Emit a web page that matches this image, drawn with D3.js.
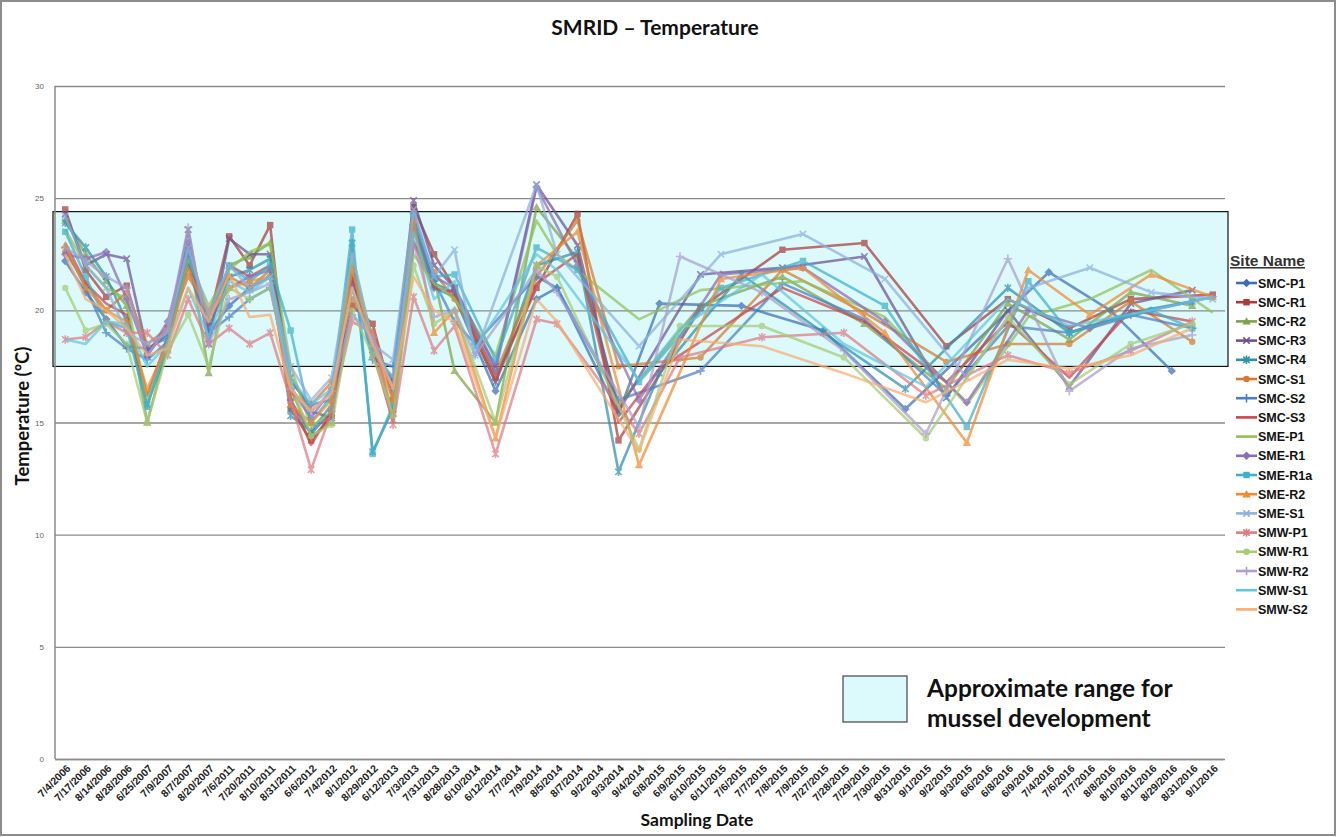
<!DOCTYPE html>
<html>
<head>
<meta charset="utf-8">
<script src="https://cdn.jsdelivr.net/npm/d3@7"></script>
<style>
  body { margin: 0; background: #fff; }
  svg { display: block; font-family: Arial, "Liberation Sans", sans-serif; }
</style>
</head>
<body>
<svg id="chart" width="1337" height="837"></svg>
<script>
// Sampling dates (category axis)
const dates = [
  "7/4/2006","7/17/2006","8/14/2006","8/28/2006",
  "6/25/2007","7/9/2007","8/7/2007","8/20/2007",
  "7/6/2011","7/20/2011","8/10/2011","8/31/2011",
  "6/6/2012","7/4/2012","8/1/2012","8/29/2012",
  "6/12/2013","7/3/2013","7/31/2013","8/28/2013",
  "6/10/2014","6/12/2014","7/7/2014","7/9/2014","8/5/2014","8/7/2014","9/2/2014","9/3/2014","9/4/2014",
  "6/8/2015","6/9/2015","6/10/2015","6/11/2015","7/6/2015","7/7/2015","7/8/2015","7/9/2015",
  "7/27/2015","7/28/2015","7/29/2015","7/30/2015","8/31/2015","9/1/2015","9/2/2015","9/3/2015",
  "6/6/2016","6/8/2016","6/9/2016","7/4/2016","7/6/2016","7/7/2016",
  "8/8/2016","8/10/2016","8/11/2016","8/29/2016","8/31/2016","9/1/2016"
];

const sites = ["SMC-P1","SMC-R1","SMC-R2","SMC-R3","SMC-R4","SMC-S1","SMC-S2","SMC-S3",
               "SME-P1","SME-R1","SME-R1a","SME-R2","SME-S1",
               "SMW-P1","SMW-R1","SMW-R2","SMW-S1","SMW-S2"];

const yTicks = [0, 5, 10, 15, 20, 25, 30];
const musselRange = [17.5, 24.4];

const _ = null; // site not sampled on that date

// Temperature (°C) per site, one value per sampling date
const smcP1 = [22.2,20.8,19.6,18.4, 18.3,18.8,22.4,19.0, 20.2,21.0,21.5,16.0, 14.5,15.5,21.0,18.3, 16.8,23.6,21.0,20.6,
  _,16.4,_,20.5,21.0,_,_,15.4,_, 20.3,_,_,_,20.2,_,_,_, 19.1,_,_,_,15.6,_,_,_, _,_,_,21.7,_,_, 20.0,_,_,17.3,_,_];
const smcR1 = [24.5,21.8,20.6,21.1, 18.0,19.2,22.0,19.5, 23.3,22.0,23.8,15.6, 14.2,15.3,20.2,19.4, 16.0,24.6,22.5,21.0,
  _,17.0,_,21.0,_,24.3,_,14.2,_, _,_,20.1,_,_,_,22.7,_, _,_,23.0,_,_,_,18.4,_, _,20.5,_,_,19.2,_, _,20.5,_,_,_,20.7];
const smcR2 = [24.0,22.5,21.3,20.2, 15.0,18.5,22.8,17.2, 22.0,22.4,23.0,16.5, 14.4,15.0,22.0,18.7, 15.4,23.0,21.5,17.3,
  _,15.0,_,24.6,_,22.3,_,15.8,_, _,_,20.2,_,_,_,21.5,_, _,_,19.4,_,_,_,16.5,_, _,20.3,_,_,18.7,_, _,20.8,_,_,20.2,_];
const smcR3 = [24.3,22.0,22.5,22.3, 18.2,19.0,23.6,18.5, 23.2,22.5,22.5,17.0, 15.5,15.2,21.5,18.0, 17.0,24.9,22.0,21.0,
  _,17.5,_,25.6,_,22.9,_,15.5,_, _,_,21.6,_,_,_,21.9,_, _,_,22.4,_,_,_,16.1,_, _,20.0,_,_,16.6,_, _,20.3,_,_,20.9,_];
const smcR4 = [23.9,22.8,21.5,19.5, 15.8,18.3,22.6,19.2, 21.5,21.8,22.3,15.3, 14.6,15.8,23.0,13.7, 15.6,24.0,21.2,20.8,
  _,16.8,_,22.0,_,22.6,_,12.8,_, 17.2,_,_,_,21.6,_,_,_, 19.0,_,_,_,16.5,_,_,_, _,21.0,_,_,19.0,_, _,19.9,_,_,20.4,_];
const smcS1 = [22.6,21.2,20.0,20.8, 18.5,19.2,21.5,20.0, 21.5,21.0,21.8,16.3, 15.8,16.8,20.5,19.0, 16.3,23.5,21.7,20.5,
  _,17.2,_,21.5,_,24.0,_,17.5,_, _,_,17.9,_,_,_,21.8,_, _,_,19.9,_,_,_,17.7,_, _,18.5,_,_,18.5,_, _,20.4,_,_,18.6,_];
const smcS2 = [22.8,21.0,19.0,18.3, 17.8,18.6,22.0,19.0, 19.7,20.5,21.0,16.8, 15.8,16.0,21.5,17.8, 17.5,23.8,21.3,19.5,
  18.5,_,_,21.5,21.0,_,_,16.0,_, _,_,17.3,_,_,_,21.2,_, _,_,19.6,_,_,_,16.2,_, _,19.3,_,_,19.0,_, _,19.8,_,_,19.2,_];
const smcS3 = [23.0,21.2,20.3,19.8, 16.2,18.8,22.5,19.3, 22.0,21.5,22.0,16.0, 14.0,15.5,21.5,18.2, 15.0,23.0,21.0,20.8,
  _,16.8,_,21.2,_,22.5,_,15.0,_, 17.4,_,_,_,_,_,21.0,_, _,_,19.5,_,_,_,16.8,_, _,19.5,_,_,17.0,_, _,20.0,_,_,19.5,_];
const smeP1 = [23.6,22.0,21.0,20.5, 16.0,18.5,22.3,20.2, 21.8,22.6,23.0,17.5, 14.8,15.5,22.5,18.6, 16.5,22.5,21.2,20.5,
  _,18.0,_,24.0,22.5,_,_,_,19.6, _,_,20.9,_,_,_,_,21.3, _,_,_,19.7,_,_,_,15.8, _,_,19.7,_,_,20.5, _,_,21.8,_,_,19.9];
const smeR1 = [22.5,22.3,22.6,20.5, 18.0,19.5,23.0,19.5, 21.0,21.5,21.8,16.5, 15.2,16.5,21.0,18.5, 16.5,24.3,21.5,21.0,
  _,17.3,_,25.5,_,22.0,_,_,16.0, _,_,_,21.6,_,_,_,21.9, _,_,_,19.5,_,_,_,15.9, _,_,20.0,_,_,19.2, _,_,20.0,_,_,20.6];
const smeR1a = [23.5,21.5,19.5,19.2, 15.7,18.7,22.5,19.6, 22.0,21.3,22.0,19.1, 15.0,16.2,23.6,13.6, 15.8,24.2,21.5,21.6,
  _,17.8,_,22.8,_,21.8,_,_,16.8, _,_,_,21.0,_,_,_,22.2, _,_,_,20.2,_,_,_,14.8, _,_,21.3,_,19.0,_, _,_,20.0,_,19.2,_];
const smeR2 = [22.9,21.0,20.0,19.5, 16.5,18.5,21.8,19.8, 21.0,21.3,21.5,15.8, 15.0,16.0,21.8,18.5, 16.0,24.0,19.0,20.0,
  _,14.3,_,22.0,_,23.5,_,_,13.1, _,_,_,21.4,_,_,_,21.9, _,_,_,19.0,_,_,_,14.1, _,_,21.8,_,_,19.8, _,_,21.6,_,_,20.6];
const smeS1 = [24.2,22.0,21.0,19.0, 18.5,19.0,22.8,19.8, 22.0,21.0,21.5,17.5, 16.0,17.0,22.5,18.5, 17.8,24.5,21.5,22.7,
  18.0,_,_,25.6,22.5,_,_,_,18.4, _,_,_,22.5,_,_,_,23.4, _,_,_,21.4,_,_,_,17.0, _,_,21.0,_,_,21.9, _,_,20.8,_,_,20.5];
const smwP1 = [18.7,18.8,19.5,19.0, 19.0,18.0,20.5,18.5, 19.2,18.5,19.0,16.0, 12.9,15.5,19.5,19.0, 14.9,20.6,18.2,19.3,
  _,13.6,_,19.6,19.4,_,_,_,14.5, _,17.9,_,_,_,18.8,_,_, _,19.0,_,_,_,16.2,_,_, _,18.0,_,_,17.2,_, _,18.2,_,_,19.5,_];
const smwR1 = [21.0,19.1,19.4,18.5, 15.0,18.2,19.8,17.5, 21.0,20.5,21.0,16.8, 14.4,14.9,20.0,18.0, 15.3,22.0,19.4,20.0,
  _,15.0,_,22.0,21.5,_,_,_,13.8, _,19.3,_,_,_,19.3,_,_, _,17.9,_,_,_,14.3,_,_, _,19.7,_,_,16.7,_, _,18.5,_,_,19.4,_];
const smwR2 = [22.8,22.2,21.5,21.0, 18.0,19.2,23.7,18.5, 20.5,20.8,21.2,16.5, 15.5,16.4,19.8,18.8, 16.5,23.0,19.7,20.0,
  18.0,_,_,21.8,20.8,_,_,_,14.8, _,22.4,_,_,_,20.8,_,_, _,18.2,_,_,_,14.5,_,_, _,22.3,_,_,16.4,_, _,18.3,_,_,18.9,_];
const smwS1 = [18.7,18.5,19.5,19.4, 17.5,18.5,21.0,18.8, 21.3,20.8,21.5,17.0, 15.8,16.5,21.0,18.2, 17.0,23.5,20.5,21.3,
  18.3,_,_,22.5,21.8,_,_,_,16.9, _,19.2,_,_,_,21.6,_,_, _,18.5,_,_,_,16.6,_,_, _,20.5,_,_,19.3,_, _,_,20.0,_,_,20.6];
const smwS2 = [22.5,20.5,20.0,19.2, 18.0,18.3,21.0,19.5, 21.6,19.7,19.8,16.5, 15.5,16.3,21.0,18.5, 16.5,21.5,20.0,19.5,
  _,14.3,_,20.5,19.5,_,_,_,13.7, _,18.7,_,_,_,18.4,_,_, _,17.2,_,_,_,15.9,_,_, _,17.8,_,_,17.4,_, _,18.0,_,_,19.2,_];

const seriesValues = [smcP1, smcR1, smcR2, smcR3, smcR4, smcS1, smcS2, smcS3,
                      smeP1, smeR1, smeR1a, smeR2, smeS1,
                      smwP1, smwR1, smwR2, smwS1, smwS2];

const colors = ["#3c6fb3","#a83c3a","#7fa348","#6c5293","#2f8fa8","#d57a2e","#4a7fc6","#c9434a",
                "#92bf55","#8a6cb5","#3fb0ca","#f28a30","#8fb0dd",
                "#de7a82","#a5cb75","#ab9fcc","#62c5dc","#f7ad72"];
const markers = ["diamond","square","triangle","x","star","circle","plus","none",
                 "none","diamond","square","triangle","x",
                 "star","circle","plus","none","none"];

// ---- layout ----
const svg = d3.select("#chart");
const W = 1337, H = 837;
const plot = { left: 55, right: 1223, top: 86, bottom: 759 };
const calibriLike = "Lato, 'Open Sans', sans-serif";

const x = d3.scaleBand().domain(dates).range([plot.left, plot.right]);
const xc = d => x(d) + x.bandwidth() / 2;
const y = d3.scaleLinear().domain([0, 30]).range([plot.bottom, plot.top]);

// outer frame
svg.append("rect").attr("x", 1).attr("y", 1).attr("width", W - 3).attr("height", H - 3)
  .attr("fill", "#fff").attr("stroke", "#8c8c8c").attr("stroke-width", 2);

// title
svg.append("text").attr("x", 655).attr("y", 35).attr("text-anchor", "middle")
  .style("font-family", calibriLike).style("font-weight", "700").style("font-size", "21px")
  .attr("fill", "#111").text("SMRID \u2013 Temperature");

// mussel development band
svg.append("rect")
  .attr("x", plot.left - 2).attr("y", y(musselRange[1]))
  .attr("width", plot.right + 5 - (plot.left - 2)).attr("height", y(musselRange[0]) - y(musselRange[1]))
  .attr("fill", "#dcfafc").attr("stroke", "#111").attr("stroke-width", 1.2);

// gridlines
svg.append("g").attr("transform", `translate(${plot.left},0)`)
  .call(d3.axisLeft(y).tickValues(yTicks).tickSize(-(plot.right + 2 - plot.left)).tickFormat(""))
  .call(g => g.select(".domain").remove())
  .call(g => g.selectAll("line").attr("stroke", "#8a8a8a").attr("stroke-width", 1.3));

// y axis line and labels
svg.append("line").attr("x1", plot.left).attr("x2", plot.left).attr("y1", plot.top).attr("y2", plot.bottom)
  .attr("stroke", "#8a8a8a").attr("stroke-width", 1.5);
svg.append("g").attr("transform", `translate(${plot.left},0)`)
  .call(d3.axisLeft(y).tickValues(yTicks).tickSize(0).tickPadding(11))
  .call(g => g.select(".domain").remove())
  .call(g => g.selectAll("text").attr("fill", "#666").style("font-size", "8px"));

// x axis
const xAxis = svg.append("g").attr("transform", `translate(0,${plot.bottom})`)
  .call(d3.axisBottom(x).tickSize(0).tickPadding(0));
xAxis.select(".domain").attr("stroke", "#8a8a8a").attr("stroke-width", 1.5);
xAxis.selectAll("text")
  .attr("text-anchor", "end").attr("fill", "#222")
  .style("font-size", "10.5px").style("font-weight", "700")
  .attr("dy", "0").attr("y", 0)
  .attr("transform", "translate(6,10) rotate(-45)");

// axis titles
svg.append("text").attr("transform", "translate(29,416) rotate(-90)").attr("text-anchor", "middle")
  .style("font-family", calibriLike).style("font-weight", "700").style("font-size", "18.5px")
  .attr("fill", "#111").text("Temperature (\u00baC)");
svg.append("text").attr("x", 697).attr("y", 826).attr("text-anchor", "middle")
  .style("font-family", calibriLike).style("font-weight", "700").style("font-size", "17.5px")
  .attr("fill", "#111").text("Sampling Date");

// marker drawing
function drawMarker(sel, type, color, r) {
  if (type === "diamond") {
    sel.append("path").attr("d", `M0,${-r - 1}L${r + 1},0L0,${r + 1}L${-r - 1},0Z`).attr("fill", color);
  } else if (type === "square") {
    sel.append("rect").attr("x", -r).attr("y", -r).attr("width", 2 * r).attr("height", 2 * r).attr("fill", color);
  } else if (type === "triangle") {
    sel.append("path").attr("d", `M0,${-r - 1}L${r + 1},${r}L${-r - 1},${r}Z`).attr("fill", color);
  } else if (type === "circle") {
    sel.append("circle").attr("r", r).attr("fill", color);
  } else if (type === "x") {
    sel.append("path").attr("d", `M${-r},${-r}L${r},${r}M${-r},${r}L${r},${-r}`)
      .attr("stroke", color).attr("stroke-width", 1.6).attr("fill", "none");
  } else if (type === "star") {
    sel.append("path").attr("d", `M${-r},${-r}L${r},${r}M${-r},${r}L${r},${-r}M0,${-r - 1}L0,${r + 1}`)
      .attr("stroke", color).attr("stroke-width", 1.6).attr("fill", "none");
  } else if (type === "plus") {
    sel.append("path").attr("d", `M${-r - 1},0L${r + 1},0M0,${-r - 1}L0,${r + 1}`)
      .attr("stroke", color).attr("stroke-width", 1.6).attr("fill", "none");
  }
}

// series lines (consecutive sampled dates are joined across gaps)
const line = d3.line().x(d => xc(d.date)).y(d => y(d.v));
const seriesG = svg.append("g");
seriesValues.forEach((vals, i) => {
  const pts = dates.map((d, j) => ({ date: d, v: vals[j] })).filter(p => p.v !== null);
  const g = seriesG.append("g").attr("opacity", 0.72);
  g.append("path").datum(pts).attr("d", line)
    .attr("fill", "none").attr("stroke", colors[i]).attr("stroke-width", 2.6)
    .attr("stroke-linejoin", "round");
  if (markers[i] !== "none") {
    pts.forEach(p => {
      const m = g.append("g").attr("transform", `translate(${xc(p.date)},${y(p.v)})`);
      drawMarker(m, markers[i], colors[i], 3.2);
    });
  }
});

// site legend
const leg = svg.append("g");
leg.append("text").attr("x", 1230).attr("y", 266)
  .style("font-weight", "700").style("font-size", "15.5px").style("text-decoration", "underline")
  .attr("fill", "#333").text("Site Name");
sites.forEach((s, i) => {
  const ly = 283 + i * 19.2;
  const g = leg.append("g").attr("transform", `translate(0,${ly})`);
  g.append("line").attr("x1", 1236).attr("x2", 1257).attr("y1", 0).attr("y2", 0)
    .attr("stroke", colors[i]).attr("stroke-width", 2.6);
  const m = g.append("g").attr("transform", "translate(1246.5,0)");
  drawMarker(m, markers[i], colors[i], 3.2);
  g.append("text").attr("x", 1258).attr("y", 4.5)
    .style("font-weight", "700").style("font-size", "12.5px").attr("fill", "#111").text(s);
});

// band legend
svg.append("rect").attr("x", 843).attr("y", 676).attr("width", 64).attr("height", 46)
  .attr("fill", "#dcfafc").attr("stroke", "#444").attr("stroke-width", 1.2);
const bt = svg.append("text").style("font-family", calibriLike)
  .style("font-weight", "700").style("font-size", "24.5px").attr("fill", "#111");
bt.append("tspan").attr("x", 927).attr("y", 697).text("Approximate range for");
bt.append("tspan").attr("x", 927).attr("y", 727).text("mussel development");
</script>
</body>
</html>
